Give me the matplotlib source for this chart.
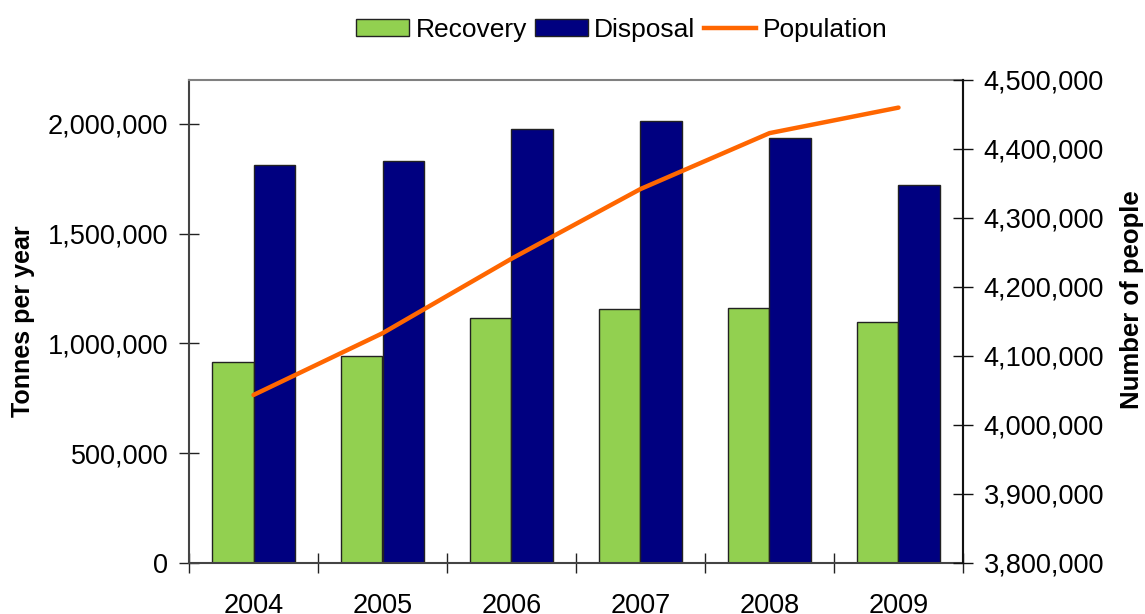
import matplotlib
matplotlib.use('Agg')

import matplotlib.pyplot as plt
from matplotlib.ticker import FuncFormatter, FixedLocator
from matplotlib.patches import Patch
from matplotlib.lines import Line2D

# Waste arisings and population by year
years = ['2004', '2005', '2006', '2007', '2008', '2009']
recovery = [915000, 941000, 1117000, 1155000, 1162000, 1097000]
disposal = [1815000, 1832000, 1979000, 2011000, 1935000, 1721000]
population = [4043500, 4133000, 4241000, 4342000, 4423000, 4460000]

GREEN = '#92D050'
NAVY = '#000080'
ORANGE = '#FF6600'

plt.rcParams['font.family'] = ['Liberation Sans', 'DejaVu Sans']

W, H = 1145, 614
fig = plt.figure(figsize=(W / 100, H / 100), dpi=100)
ax = fig.add_axes([189 / W, (H - 563) / H, (963 - 189) / W, (563 - 80) / H])

x = list(range(len(years)))
bw = 0.323
ax.bar([i - bw / 2 for i in x], recovery, width=bw, color=GREEN,
       edgecolor='#222222', linewidth=1.0, zorder=2)
ax.bar([i + bw / 2 for i in x], disposal, width=bw, color=NAVY,
       edgecolor='#222222', linewidth=1.0, zorder=2)

ax.set_xlim(-0.5, len(years) - 0.5)
ax.set_ylim(0, 2200000)
ax.set_yticks([0, 500000, 1000000, 1500000, 2000000])
fmt = FuncFormatter(lambda v, p: f'{v:,.0f}')
ax.yaxis.set_major_formatter(fmt)

# category boundaries as ticks, year labels centred between them
ax.xaxis.set_major_locator(FixedLocator([i - 0.5 for i in range(len(years) + 1)]))
ax.xaxis.set_major_formatter(FuncFormatter(lambda v, p: ''))
ax.xaxis.set_minor_locator(FixedLocator(x))
ax.set_xticklabels(years, minor=True)
ax.tick_params(axis='x', which='major', direction='inout', length=14, width=1.0, color='#222222')
ax.tick_params(axis='x', which='minor', length=0, pad=21.5, labelsize=19.5)
ax.tick_params(axis='y', direction='inout', length=14, width=1.0, color='#222222',
               labelsize=19.5, pad=8)

for side in ('top', 'left', 'right'):
    ax.spines[side].set_color('#808080')
    ax.spines[side].set_linewidth(1.5)
ax.spines['left'].set_color('#444444')
ax.spines['bottom'].set_color('#444444')
ax.spines['bottom'].set_linewidth(1.5)

ax.set_ylabel('Tonnes per year', fontsize=18, fontweight='bold')
ax.yaxis.set_label_coords(-0.199, 0.5)

ax2 = ax.twinx()
ax2.plot(x, population, color=ORANGE, linewidth=3.2, solid_capstyle='round', zorder=3)
ax2.set_ylim(3800000, 4500000)
ax2.set_yticks(range(3800000, 4500001, 100000))
ax2.yaxis.set_major_formatter(fmt)
ax2.tick_params(axis='y', direction='inout', length=14, width=1.0, color='#111111',
                labelsize=19.5, pad=8)
for side in ('top', 'left', 'bottom'):
    ax2.spines[side].set_visible(False)
ax2.spines['right'].set_color('#111111')
ax2.spines['right'].set_linewidth(1.5)
ax2.set_ylabel('Number of people', fontsize=18.5, fontweight='bold')
ax2.yaxis.set_label_coords(1.203, 0.545)

handles = [
    Patch(facecolor=GREEN, edgecolor='#222222', linewidth=1.0, label='Recovery'),
    Patch(facecolor=NAVY, edgecolor='#222222', linewidth=1.0, label='Disposal'),
    Line2D([0], [0], color=ORANGE, linewidth=3.2, label='Population'),
]
fig.legend(handles=handles, loc='center', bbox_to_anchor=(622 / W, 1 - 30 / H), ncol=3,
           frameon=False, fontsize=19, handlelength=2.0, handleheight=0.6,
           handletextpad=0.25, columnspacing=0.3, borderaxespad=0)

fig.savefig('out.png', dpi=100)
